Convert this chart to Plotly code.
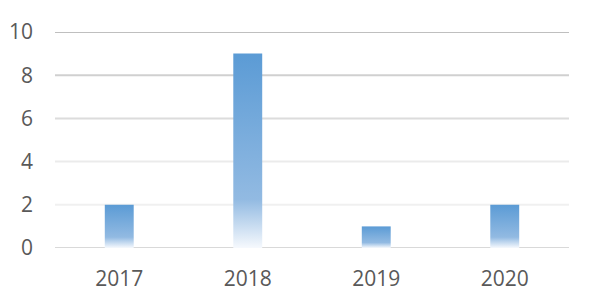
import plotly.graph_objects as go

years = ["2017", "2018", "2019", "2020"]
counts = [2, 9, 1, 2]
y_ticks = [0, 2, 4, 6, 8, 10]
grid_colors = ["#d9d9d9", "#f0f0f0", "#ebebeb", "#dcdcdc", "#d0d0d0", "#bfbfbf"]

bar_width = 0.225
gradient = [[0.0, "#f6f9fd"], [0.25, "#92bae2"], [1.0, "#5b9bd5"]]

fig = go.Figure()
for i, v in enumerate(counts):
    x0, x1 = i - bar_width / 2, i + bar_width / 2
    fig.add_trace(go.Scatter(
        x=[x0, x1, x1, x0, x0],
        y=[0, 0, v, v, 0],
        mode="lines",
        line=dict(width=0),
        fill="toself",
        fillgradient=dict(type="vertical", colorscale=gradient, start=0, stop=v),
        hoverinfo="skip",
        showlegend=False,
    ))

shapes = []
for t, c in zip(y_ticks, grid_colors):
    shapes.append(dict(type="line", xref="paper", yref="y", x0=0, x1=1, y0=t, y1=t,
                       line=dict(color=c, width=2), layer="below"))

fig.update_layout(
    width=592, height=304,
    margin=dict(l=55, r=23, t=32, b=56),
    paper_bgcolor="white", plot_bgcolor="white",
    font=dict(family="Open Sans", size=21, color="#595959"),
    shapes=shapes,
    xaxis=dict(range=[-0.5, len(years) - 0.5], tickvals=list(range(len(years))), ticktext=years,
               showgrid=False, zeroline=False, showline=False, ticks="", ticklabelstandoff=16,
               automargin=False, fixedrange=True),
    yaxis=dict(range=[0, 10], tickvals=y_ticks, showgrid=False, zeroline=False, showline=False,
               ticks="", ticklabelstandoff=21, automargin=False, fixedrange=True),
)

fig.write_html("out.html")
